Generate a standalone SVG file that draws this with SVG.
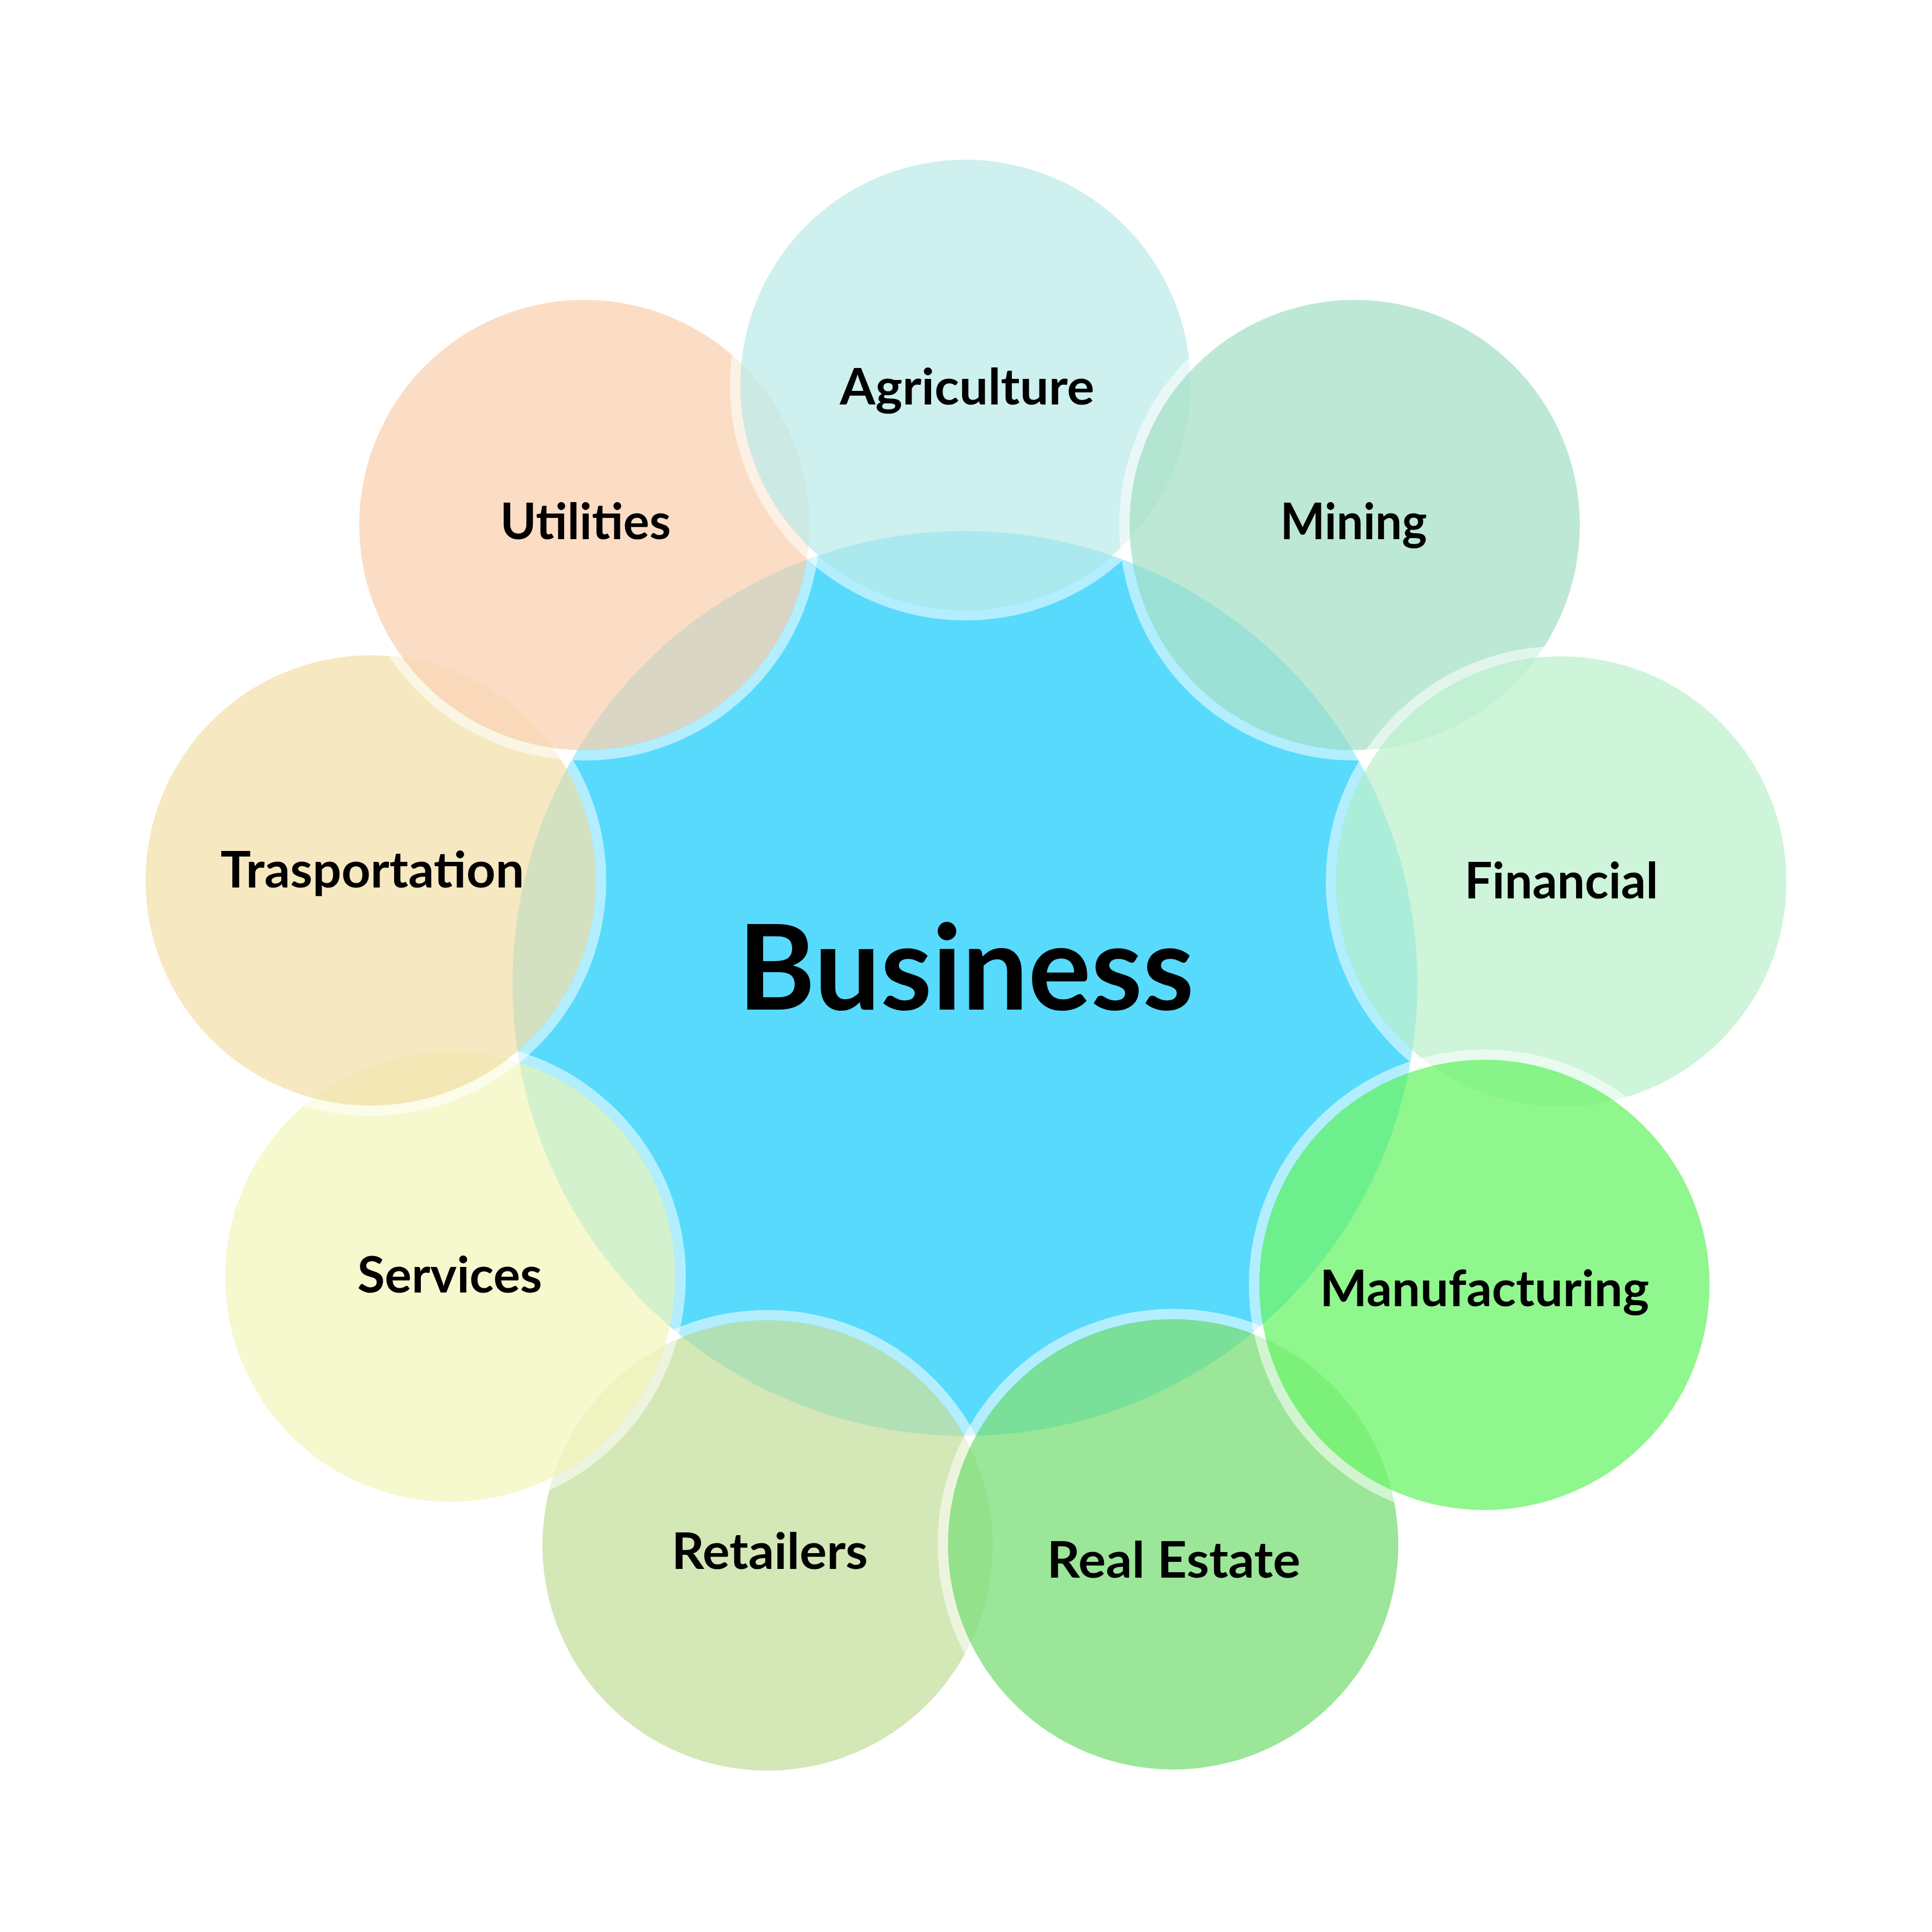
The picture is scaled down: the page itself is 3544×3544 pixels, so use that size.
<svg xmlns="http://www.w3.org/2000/svg" width="3544" height="3544" viewBox="0 0 3544 3544">
<style>
.ring{fill:none;stroke:#ffffff;stroke-opacity:0.55;stroke-width:19}
.fill{fill-opacity:0.8}
.lbl{font-family:Lato,"Open Sans","Liberation Sans",sans-serif;font-weight:700;font-size:92px;fill:#000;text-anchor:middle}
.big{font-family:Lato,"Open Sans","Liberation Sans",sans-serif;font-weight:700;font-size:216px;fill:#000;text-anchor:middle}
</style>
<rect x="0" y="0" width="3544" height="3544" fill="#ffffff"/>
<g id="connectors"></g>
<g id="business">
<circle cx="1770" cy="1804" r="830" fill="#58DAFD"/>
<text class="big" x="1772" y="1852" textLength="837" lengthAdjust="spacingAndGlyphs">Business</text>
</g>
<g id="retailers">
<circle class="ring" cx="1408" cy="2835" r="422.5"/>
<circle class="fill" cx="1408" cy="2835" r="413" fill="#C9E1A4"/>
<text class="lbl" x="1412" y="2878" textLength="360" lengthAdjust="spacingAndGlyphs">Retailers</text>
</g>
<g id="real-estate">
<circle class="ring" cx="2152" cy="2833" r="422.5"/>
<circle class="fill" cx="2152" cy="2833" r="413" fill="#82E080"/>
<text class="lbl" x="2153" y="2894" textLength="465" lengthAdjust="spacingAndGlyphs">Real Estate</text>
</g>
<g id="services">
<circle class="ring" cx="826" cy="2342" r="422.5"/>
<circle class="fill" cx="826" cy="2342" r="413" fill="#F4F6C2"/>
<text class="lbl" x="825" y="2371" textLength="339" lengthAdjust="spacingAndGlyphs">Services</text>
</g>
<g id="trasportation">
<circle class="ring" cx="680" cy="1615" r="422.5"/>
<circle class="fill" cx="680" cy="1615" r="413" fill="#F4E2B0"/>
<text class="lbl" x="683" y="1628" textLength="557" lengthAdjust="spacingAndGlyphs">Trasportation</text>
</g>
<g id="utilities">
<circle class="ring" cx="1072" cy="963" r="422.5"/>
<circle class="fill" cx="1072" cy="963" r="413" fill="#FAD5B7"/>
<text class="lbl" x="1074" y="989" textLength="313" lengthAdjust="spacingAndGlyphs">Utilities</text>
</g>
<g id="agriculture">
<circle class="ring" cx="1771" cy="706" r="422.5"/>
<circle class="fill" cx="1771" cy="706" r="413" fill="#C2ECEA"/>
<text class="lbl" x="1774" y="742" textLength="467" lengthAdjust="spacingAndGlyphs">Agriculture</text>
</g>
<g id="mining">
<circle class="ring" cx="2485" cy="963" r="422.5"/>
<circle class="fill" cx="2485" cy="963" r="413" fill="#AEE2CC"/>
<text class="lbl" x="2483" y="989" textLength="269" lengthAdjust="spacingAndGlyphs">Mining</text>
</g>
<g id="financial">
<circle class="ring" cx="2864" cy="1617" r="422.5"/>
<circle class="fill" cx="2864" cy="1617" r="413" fill="#C2F1D1"/>
<text class="lbl" x="2864" y="1648" textLength="355" lengthAdjust="spacingAndGlyphs">Financial</text>
</g>
<g id="manufacturing">
<circle class="ring" cx="2723" cy="2357" r="422.5"/>
<circle class="fill" cx="2723" cy="2357" r="413" fill="#74F472"/>
<text class="lbl" x="2723" y="2396" textLength="604" lengthAdjust="spacingAndGlyphs">Manufacturing</text>
</g>
</svg>
